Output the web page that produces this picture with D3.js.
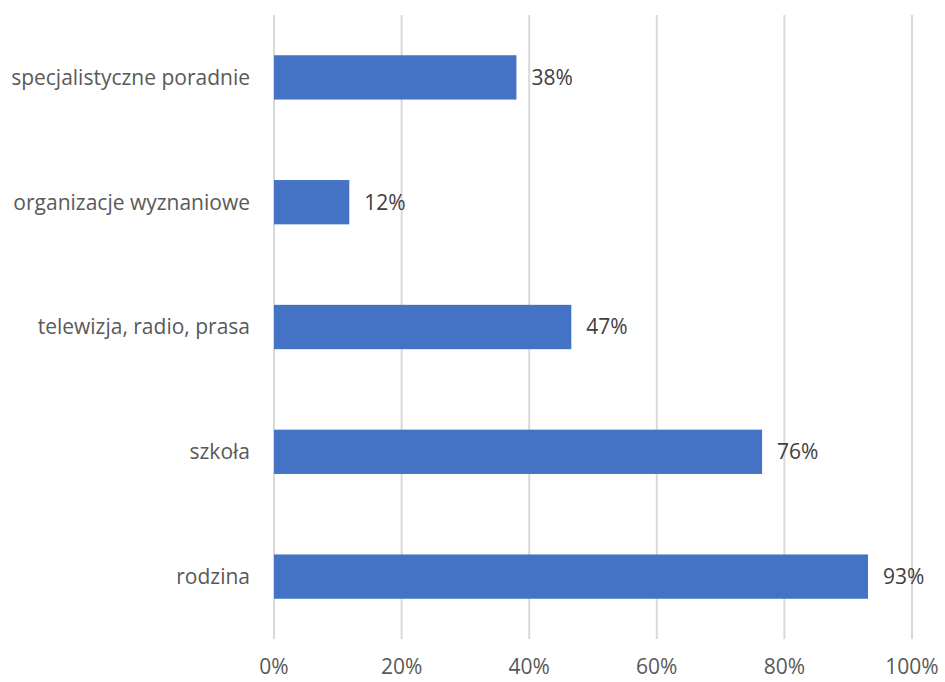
<!DOCTYPE html>
<html><head><meta charset="utf-8">
<script src="https://cdn.jsdelivr.net/npm/d3@7"></script>
<style>body{margin:0;background:#fff;}svg{display:block;}</style>
</head><body>
<svg id="c" width="945" height="682"></svg>
<script>
const categories = ["specjalistyczne poradnie","organizacje wyznaniowe","telewizja, radio, prasa","szkoła","rodzina"];
const values = [0.38, 0.118, 0.466, 0.765, 0.931];
const labels = ["38%","12%","47%","76%","93%"];
const ticks = [0,0.2,0.4,0.6,0.8,1.0];
const tickLabels = ["0%","20%","40%","60%","80%","100%"];

const svg = d3.select("#c");
const font = "'Open Sans', sans-serif";
const fs = 21;
const m = {left:274, right:33, top:15, bottom:43};
const W = 945, H = 682;
const x = d3.scaleLinear().domain([0,1]).range([m.left, W-m.right]);
const y = d3.scaleBand().domain(categories).range([m.top, H-m.bottom]).paddingInner(0.645).paddingOuter(0.3225);

svg.append("g").selectAll("line").data(ticks).join("line")
  .attr("x1", d=>x(d)).attr("x2", d=>x(d))
  .attr("y1", m.top).attr("y2", H-m.bottom)
  .attr("stroke","#d9d9d9").attr("stroke-width",2);

svg.append("g").selectAll("rect").data(values).join("rect")
  .attr("x", x(0)).attr("y",(d,i)=>y(categories[i]))
  .attr("width", d=>x(d)-x(0)).attr("height", y.bandwidth())
  .attr("fill","#4472c4");

svg.append("g").selectAll("text").data(values).join("text")
  .attr("x", d=>x(d)+15).attr("y",(d,i)=>y(categories[i])+y.bandwidth()/2)
  .attr("dy","0.35em").attr("font-family",font).attr("font-size",fs).attr("fill","#404040")
  .text((d,i)=>labels[i]);

svg.append("g").selectAll("text").data(categories).join("text")
  .attr("x", m.left-24).attr("y", d=>y(d)+y.bandwidth()/2)
  .attr("dy","0.35em").attr("text-anchor","end")
  .attr("font-family",font).attr("font-size",fs).attr("fill","#595959")
  .text(d=>d);

svg.append("g").selectAll("text").data(ticks).join("text")
  .attr("x", d=>x(d)).attr("y", 667).attr("dy","0.35em").attr("text-anchor","middle")
  .attr("font-family",font).attr("font-size",fs).attr("fill","#595959")
  .text((d,i)=>tickLabels[i]);
</script>
</body></html>
